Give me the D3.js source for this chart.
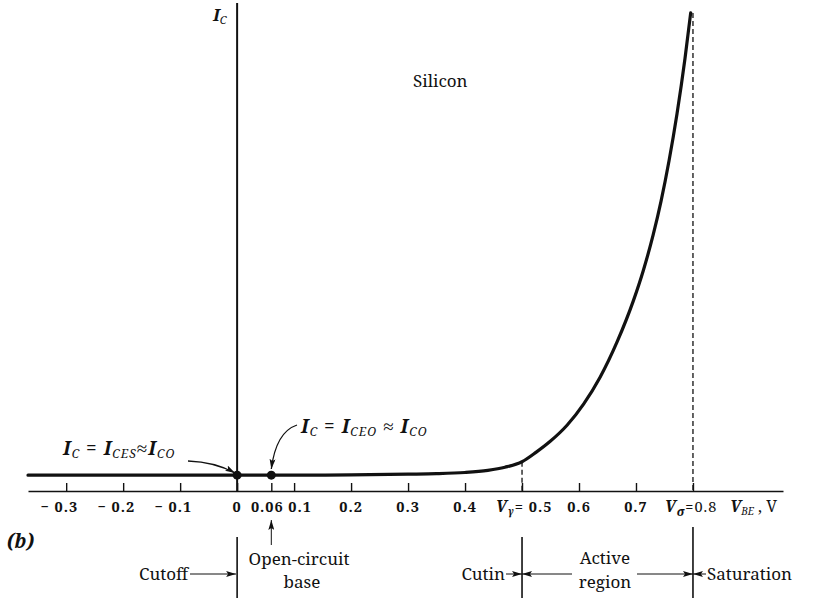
<!DOCTYPE html>
<html>
<head>
<meta charset="utf-8">
<script src="https://cdn.jsdelivr.net/npm/d3@7"></script>
<style>
  body { margin: 0; background: #fff; }
  svg { display: block; }
  text { font-family: "Noto Serif", "Liberation Serif", serif; fill: #111; }
</style>
</head>
<body>
<svg id="chart" width="817" height="598"></svg>
<script>
// ---- data ----
const xDomain = [-0.367, 0.958];
const yDomain = [0, 100];
const vbe = [-0.367, -0.2, 0, 0.06, 0.2, 0.3, 0.35, 0.4, 0.44, 0.47, 0.5, 0.525, 0.549, 0.579, 0.608, 0.637, 0.667, 0.695, 0.713, 0.730, 0.744, 0.758, 0.772, 0.786, 0.796];
const ic  = [3.3, 3.3, 3.3, 3.3, 3.35, 3.5, 3.6, 3.85, 4.3, 4.95, 6.1, 8.1, 10.3, 13.7, 18.1, 23.7, 31.1, 39.5, 46.0, 53.3, 60.4, 68.8, 78.6, 90.1, 99.6];
const tickValues = [-0.3, -0.2, -0.1, 0, 0.06, 0.1, 0.2, 0.3, 0.4, 0.5, 0.6, 0.7, 0.8];
const tickLabels = ["− 0.3", "− 0.2", "− 0.1", "0", "0.06", "0.1", "0.2", "0.3", "0.4", "0.5", "0.6", "0.7", "0.8"];
const pointV = [0, 0.06];
const pointI = [3.3, 3.3];
const dashV = [0.5, 0.8];
const dashTop = [6.1, 99.6];
const regionLines = [0, 0.5, 0.8];

// ---- scales ----
const svg = d3.select("#chart");
svg.append("rect").attr("width", 817).attr("height", 598).attr("fill", "#fff");
const x = d3.scaleLinear().domain(xDomain).range([28, 783]);
const y = d3.scaleLinear().domain(yDomain).range([491, 11]);

// markers
const defs = svg.append("defs");
defs.append("marker").attr("id", "ah").attr("viewBox", "0 0 10 6")
  .attr("refX", 10).attr("refY", 3).attr("markerWidth", 10).attr("markerHeight", 6)
  .attr("markerUnits", "userSpaceOnUse").attr("orient", "auto")
  .append("path").attr("d", "M0,0 L10,3 L0,6 L2,3 z").attr("fill", "#111");

// x axis
const axis = d3.axisBottom(x).tickValues(tickValues).tickSizeInner(-8).tickSizeOuter(0).tickFormat("");
const gx = svg.append("g").attr("transform", "translate(0,491)").call(axis);
gx.select(".domain").attr("stroke", "#111").attr("stroke-width", 1.6);
gx.selectAll(".tick line").attr("stroke", "#111").attr("stroke-width", 1.4);

// y axis line
svg.append("line").attr("x1", x(0)).attr("x2", x(0)).attr("y1", 3).attr("y2", 491)
  .attr("stroke", "#111").attr("stroke-width", 2);

// dashed verticals
svg.selectAll(".dash").data(dashV).enter().append("line")
  .attr("x1", d => x(d)).attr("x2", d => x(d))
  .attr("y1", (d, i) => y(dashTop[i])).attr("y2", 491)
  .attr("stroke", "#111").attr("stroke-width", 1.3).attr("stroke-dasharray", "5,3");

// curve
const line = d3.line().x(d => x(d[0])).y(d => y(d[1])).curve(d3.curveMonotoneX);
svg.append("path").datum(vbe.map((v, i) => [v, ic[i]]))
  .attr("d", line).attr("fill", "none").attr("stroke", "#111").attr("stroke-width", 3.2)
  .attr("stroke-linecap", "round");

// points
svg.selectAll(".pt").data(pointV).enter().append("circle")
  .attr("cx", d => x(d)).attr("cy", (d, i) => y(pointI[i])).attr("r", 4.5).attr("fill", "#111");

// tick labels
const tl = svg.append("g").attr("font-size", 14.5).attr("font-weight", "bold").attr("letter-spacing", 1);
tickValues.forEach((v, i) => {
  const lab = tickLabels[i];
  if (v === 0.5) {
    const t = tl.append("text").attr("x", x(v) + 2).attr("y", 512).attr("text-anchor", "middle");
    t.append("tspan").attr("font-style", "italic").attr("font-size", 16).text("V");
    t.append("tspan").attr("font-size", 10).attr("dy", 3).attr("font-style", "italic").text("γ");
    t.append("tspan").attr("dy", -3).text("= " + lab);
  } else if (v === 0.8) {
    const t = tl.append("text").attr("x", x(v) - 2).attr("y", 512).attr("text-anchor", "middle");
    t.append("tspan").attr("font-style", "italic").attr("font-size", 16).text("V");
    t.append("tspan").attr("font-size", 12).attr("dy", 4).attr("font-style", "italic").text("σ");
    t.append("tspan").attr("dy", -4).attr("font-weight", "normal").text("=" + lab);
  } else if (v < 0) {
    tl.append("text").attr("x", x(v) + 12).attr("y", 512).attr("text-anchor", "end").text(lab);
  } else {
    const dx = v === 0.06 ? -4 : (v === 0.1 ? 6 : 0);
    tl.append("text").attr("x", x(v) + dx).attr("y", 512).attr("text-anchor", "middle").text(lab);
  }
});
// axis name
const xn = svg.append("text").attr("x", 730).attr("y", 512).attr("font-size", 16);
xn.append("tspan").attr("font-style", "italic").attr("font-weight", "bold").text("V");
xn.append("tspan").attr("font-style", "italic").attr("font-size", 10).attr("dy", 3).text("BE");
xn.append("tspan").attr("dy", -3).text(" , V");

// I_C label
const yl = svg.append("text").attr("x", 213).attr("y", 21).attr("font-size", 17)
  .attr("font-style", "italic").attr("font-weight", "bold");
yl.append("tspan").text("I");
yl.append("tspan").attr("font-size", 11).attr("font-weight", "normal").attr("dy", 3).text("C");

svg.append("text").attr("x", 413).attr("y", 87).attr("font-size", 17).text("Silicon");

// formula annotations
function formula(xp, yp, parts) {
  const t = svg.append("text").attr("x", xp).attr("y", yp).attr("font-size", 19)
    .attr("font-style", "italic").attr("font-weight", "bold").attr("letter-spacing", 1);
  parts.forEach(p => {
    if (p.sub) t.append("tspan").attr("font-size", 12).attr("font-weight", "normal").attr("dy", 3).text(p.sub);
    else t.append("tspan").attr("dy", p.up ? -3 : 0).attr("font-style", p.n ? "normal" : "italic")
      .attr("font-weight", p.n ? "normal" : "bold").text(p.t);
  });
}
formula(63, 455, [{t: "I"}, {sub: "C"}, {t: " = ", n: 1, up: 1}, {t: "I"}, {sub: "CES"}, {t: "≈", n: 1, up: 1}, {t: "I"}, {sub: "CO"}]);
formula(301, 433, [{t: "I"}, {sub: "C"}, {t: " = ", n: 1, up: 1}, {t: "I"}, {sub: "CEO"}, {t: " ≈ ", n: 1, up: 1}, {t: "I"}, {sub: "CO"}]);

// curved annotation arrows
svg.append("path").attr("d", `M188,461 Q215,462 ${x(0) - 2},473`).attr("fill", "none")
  .attr("stroke", "#111").attr("stroke-width", 1.3).attr("marker-end", "url(#ah)");
svg.append("path").attr("d", `M297,425 Q276,432 ${x(0.06)},469`).attr("fill", "none")
  .attr("stroke", "#111").attr("stroke-width", 1.3).attr("marker-end", "url(#ah)");

// (b)
svg.append("text").attr("x", 7).attr("y", 548).attr("font-size", 19)
  .attr("font-weight", "bold").attr("font-style", "italic").text("(b)");

// region lines
svg.selectAll(".reg").data(regionLines).enter().append("line")
  .attr("x1", d => x(d)).attr("x2", d => x(d))
  .attr("y1", d => d === 0.8 ? 527 : 537).attr("y2", 598)
  .attr("stroke", "#111").attr("stroke-width", 1.6);

// region arrows
function arrow(x1, y1, x2, y2) {
  svg.append("line").attr("x1", x1).attr("y1", y1).attr("x2", x2).attr("y2", y2)
    .attr("stroke", "#111").attr("stroke-width", 1).attr("marker-end", "url(#ah)");
}
arrow(190, 574, x(0) - 1, 574);
arrow(x(0.06), 545, x(0.06), 520);
arrow(506, 574, x(0.5), 574);
arrow(572, 574, x(0.5), 574);
arrow(637, 574, x(0.8), 574);
arrow(706, 574, x(0.8), 574);

// region texts
const rt = svg.append("g").attr("font-size", 17);
rt.append("text").attr("x", 188).attr("y", 580).attr("text-anchor", "end").text("Cutoff");
rt.append("text").attr("x", 299).attr("y", 565).attr("text-anchor", "middle").text("Open-circuit");
rt.append("text").attr("x", 302).attr("y", 588).attr("text-anchor", "middle").text("base");
rt.append("text").attr("x", 505).attr("y", 580).attr("text-anchor", "end").text("Cutin");
rt.append("text").attr("x", 605).attr("y", 564).attr("text-anchor", "middle").text("Active");
rt.append("text").attr("x", 605).attr("y", 588).attr("text-anchor", "middle").text("region");
rt.append("text").attr("x", 707).attr("y", 580).text("Saturation");
</script>
</body>
</html>
